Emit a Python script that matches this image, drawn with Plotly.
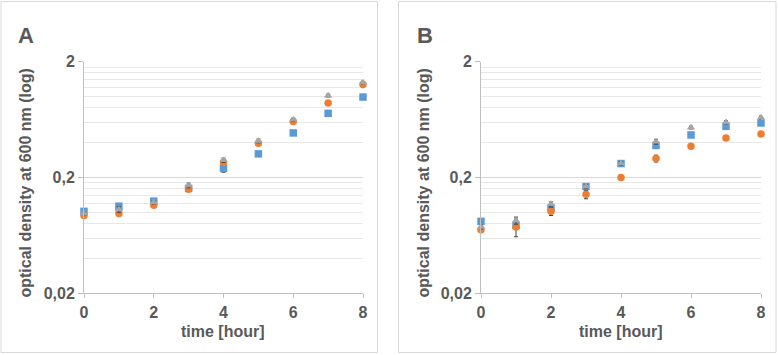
import plotly.graph_objects as go

# ---- data ----
time_h = [0, 1, 2, 3, 4, 5, 6, 7, 8]

a_blue = [0.102, 0.113, 0.125, 0.161, 0.240, 0.320, 0.485, 0.716, 0.99]
a_orange = [0.094, 0.098, 0.115, 0.158, 0.271, 0.395, 0.608, 0.880, 1.27]
a_gray = [0.098, 0.106, 0.122, 0.171, 0.282, 0.414, 0.632, 1.02, 1.32]
a_blue_err = [0.004, 0.004, 0.004, 0.006, 0.018, 0.012, 0.02, 0.02, 0.02]
a_orange_err = [0.003, 0.004, 0.003, 0.006, 0.008, 0.012, 0.015, 0.03, 0.03]
a_gray_err = [0.003, 0.006, 0.004, 0.008, 0.012, 0.015, 0.02, 0.03, 0.04]

b_blue = [0.0836, 0.077, 0.109, 0.167, 0.264, 0.378, 0.466, 0.553, 0.591]
b_orange = [0.0708, 0.0746, 0.102, 0.143, 0.200, 0.292, 0.372, 0.439, 0.475]
b_gray = [0.075, 0.085, 0.118, 0.168, 0.264, 0.408, 0.540, 0.600, 0.658]
b_blue_err = [0.003, 0.003, 0.005, 0.006, 0.01, 0.02, 0.015, 0.02, 0.02]
b_orange_err = [0.003, 0.013, 0.008, 0.012, 0.01, 0.02, 0.012, 0.01, 0.01]
b_gray_err = [0.003, 0.006, 0.005, 0.006, 0.01, 0.02, 0.015, 0.02, 0.02]

y_ticks = [0.02, 0.2, 2]
y_tick_text = ["0,02", "0,2", "2"]
x_ticks = [0, 2, 4, 6, 8]
minor_vals = [0.02 * k for k in range(2, 10)] + [0.2 * k for k in range(2, 10)]

BLUE = "#5B9BD5"
ORANGE = "#ED7D31"
GRAY = "#A5A5A5"
TXT = "#595959"
FONT = "Liberation Sans"

fig = go.Figure()


def add_series(y, err, color, symbol, xa, ya):
    fig.add_trace(go.Scatter(
        x=time_h, y=y, mode="markers", xaxis=xa, yaxis=ya,
        marker=dict(color=color, symbol=symbol, size=7.5, line=dict(width=0)),
        error_y=dict(type="data", array=err, color="#404040", thickness=1, width=2),
        cliponaxis=False, showlegend=False,
    ))


add_series(a_blue, a_blue_err, BLUE, "square", "x", "y")
add_series(a_orange, a_orange_err, ORANGE, "circle", "x", "y")
add_series(a_gray, a_gray_err, GRAY, "triangle-up", "x", "y")
add_series(b_blue, b_blue_err, BLUE, "square", "x2", "y2")
add_series(b_orange, b_orange_err, ORANGE, "circle", "x2", "y2")
add_series(b_gray, b_gray_err, GRAY, "triangle-up", "x2", "y2")

W, H = 778, 355
ydom = [1 - 293.3 / H, 1 - 61.7 / H]


def xaxis(dom, anchor):
    return dict(
        domain=dom, anchor=anchor, range=[0, 8], tickvals=x_ticks,
        showgrid=False, zeroline=False, showline=True, linecolor="#BFBFBF", linewidth=1,
        ticks="outside", ticklen=4, tickcolor="#BFBFBF", automargin=False,
        tickfont=dict(family=FONT, size=16, color=TXT, weight="bold"),
    )


def yaxis(anchor):
    return dict(
        domain=ydom, anchor=anchor, type="log",
        range=[-1.69897, 0.30103], tickvals=y_ticks, ticktext=y_tick_text,
        showgrid=True, gridcolor="#D9D9D9", gridwidth=1, zeroline=False,
        showline=True, linecolor="#BFBFBF", linewidth=1, automargin=False,
        ticks="outside", ticklen=5, tickcolor="#BFBFBF",
        tickfont=dict(family=FONT, size=16, color=TXT, weight="bold"),
        minor=dict(tickvals=minor_vals, showgrid=True, gridcolor="#E8E8E8", gridwidth=1, ticks=""),
    )


fig.update_layout(
    width=W, height=H, margin=dict(l=0, r=0, t=0, b=0, autoexpand=False),
    paper_bgcolor="white", plot_bgcolor="white",
    xaxis=xaxis([84 / W, 363 / W], "y"),
    yaxis=yaxis("x"),
    xaxis2=xaxis([481 / W, 761 / W], "y2"),
    yaxis2=yaxis("x2"),
    font=dict(family=FONT, color=TXT),
)

# panel borders
for x0, x1 in [(1, 377.5), (398.5, 776)]:
    fig.add_shape(type="rect", xref="paper", yref="paper",
                  x0=x0 / W, x1=x1 / W, y0=1 - 352.5 / H, y1=1 - 1.5 / H,
                  line=dict(color="#D9D9D9", width=1), fillcolor="rgba(0,0,0,0)")

annots = []
for label, lx, ytx, xtx in [("A", 26, 25, 223.5), ("B", 424.5, 423, 621)]:
    annots.append(dict(text="<b>%s</b>" % label, x=lx / W, y=1 - 36 / H, xref="paper", yref="paper",
                       showarrow=False, xanchor="center", yanchor="middle",
                       font=dict(family=FONT, size=22, color=TXT)))
    annots.append(dict(text="<b>optical density at 600 nm (log)</b>", x=ytx / W, y=1 - 183.5 / H,
                       xref="paper", yref="paper", showarrow=False, textangle=-90,
                       xanchor="center", yanchor="middle",
                       font=dict(family=FONT, size=16, color=TXT)))
    annots.append(dict(text="<b>time [hour]</b>", x=xtx / W, y=1 - 331.5 / H,
                       xref="paper", yref="paper", showarrow=False,
                       xanchor="center", yanchor="middle",
                       font=dict(family=FONT, size=16, color=TXT)))
fig.update_layout(annotations=annots)

fig.write_html("out.html", config={"displayModeBar": False},
               post_script="document.body.style.margin='0';document.body.style.overflow='hidden';")
